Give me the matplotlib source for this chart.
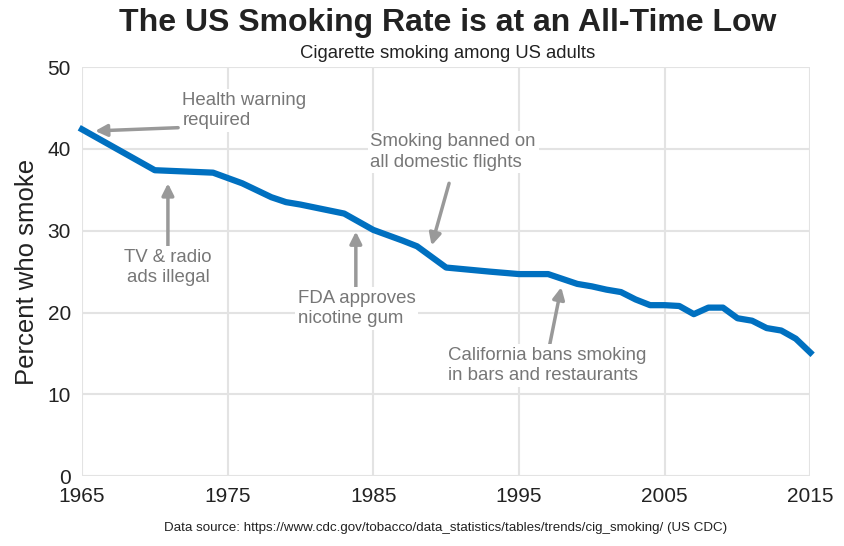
import matplotlib.pyplot as plt

plt.rcParams['font.family'] = ['Liberation Sans', 'DejaVu Sans']

years = [1965, 1970, 1974, 1976, 1978, 1979, 1980, 1983, 1985, 1987, 1988, 1990,
         1993, 1995, 1997, 1999, 2000, 2001, 2002, 2003, 2004, 2005, 2006, 2007,
         2008, 2009, 2010, 2011, 2012, 2013, 2014, 2015]
rates = [42.4, 37.4, 37.1, 35.8, 34.1, 33.5, 33.2, 32.1, 30.1, 28.8, 28.1, 25.5,
         25.0, 24.7, 24.7, 23.5, 23.2, 22.8, 22.5, 21.6, 20.9, 20.9, 20.8, 19.8,
         20.6, 20.6, 19.3, 19.0, 18.1, 17.8, 16.8, 15.1]

# label, text position, arrow tail, arrow head
notes = [
    ("Health warning\nrequired", (1971.9, 47.0), (1971.6, 42.6), (1965.9, 42.2)),
    ("TV & radio\nads illegal", (1970.9, 27.8), (1970.9, 27.9), (1970.9, 35.8)),
    ("FDA approves\nnicotine gum", (1979.8, 22.8), (1983.8, 22.8), (1983.8, 29.9)),
    ("Smoking banned on\nall domestic flights", (1984.8, 41.9), (1990.2, 35.8), (1989.0, 28.2)),
    ("California bans smoking\nin bars and restaurants", (1990.1, 15.8), (1997.1, 16.0), (1997.9, 23.1)),
]
centered = [False, True, False, False, False]

fig = plt.figure(figsize=(8.45, 5.46), dpi=100)
ax = fig.add_axes([0.097, 0.128, 0.862, 0.749])
ax.set_xlim(1965, 2015)
ax.set_ylim(0, 50)
ax.set_xticks(range(1965, 2016, 10))
ax.set_yticks(range(0, 51, 10))
ax.grid(color='#e3e3e3', linewidth=1.5)
ax.set_axisbelow(True)
for s in ax.spines.values():
    s.set_visible(False)
ax.tick_params(length=0, labelsize=15, colors='#222222', pad=8)
ax.set_ylabel('Percent who smoke', fontsize=18.5, color='#222222', labelpad=6)

ax.plot(years, rates, color='#0070c0', linewidth=4.5, clip_on=False, zorder=3)

for (txt, tpos, tail, head), c in zip(notes, centered):
    ax.annotate('', xy=head, xytext=tail,
                arrowprops=dict(arrowstyle='-|>,head_width=0.35,head_length=0.7',
                                color='#999999', lw=2.5, shrinkA=0, shrinkB=0), zorder=4)
    ax.text(tpos[0], tpos[1], txt, fontsize=13.4, color='#777777', va='top',
            ha='center' if c else 'left', linespacing=1.25, zorder=5,
            bbox=dict(facecolor='white', edgecolor='none', pad=2))

fig.text(0.53, 0.958, 'The US Smoking Rate is at an All-Time Low', ha='center',
         va='center', fontsize=23, fontweight='bold', color='#222222')
fig.text(0.53, 0.902, 'Cigarette smoking among US adults', ha='center', va='center',
         fontsize=13.3, color='#222222')
fig.text(0.527, 0.033, 'Data source: https://www.cdc.gov/tobacco/data_statistics/tables/trends/cig_smoking/ (US CDC)',
         ha='center', va='center', fontsize=9.6, color='#222222')

fig.savefig('out.png', dpi=100)
